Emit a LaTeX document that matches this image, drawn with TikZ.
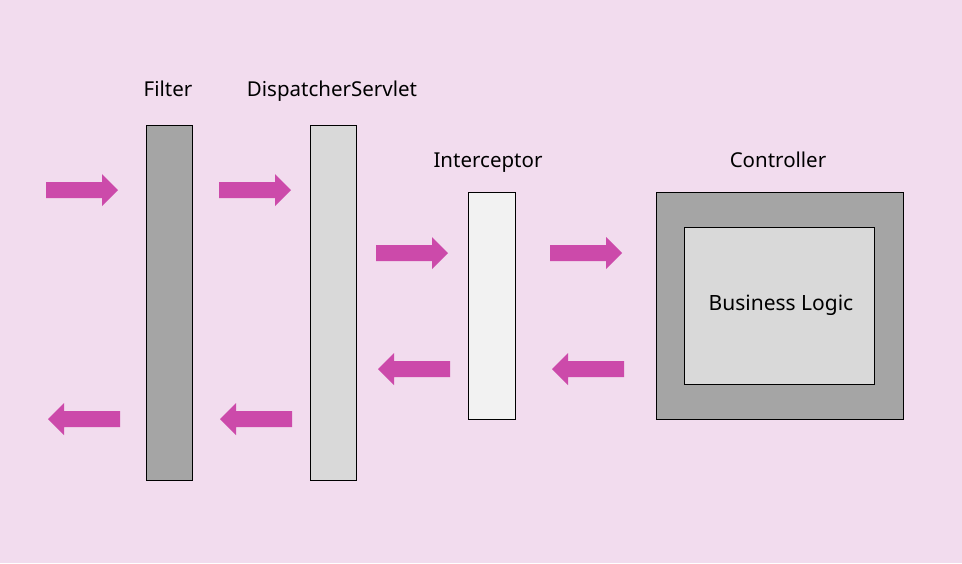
\documentclass[tikz,border=0pt]{standalone}
\usepackage{fontspec}
\setmainfont{Noto Sans}
\definecolor{bg}{HTML}{F2DCEE}
\definecolor{arr}{HTML}{CC4AAA}
\definecolor{dgray}{HTML}{A5A5A5}
\definecolor{mgray}{HTML}{D9D9D9}
\definecolor{lgray}{HTML}{F2F2F2}
\tikzset{
  box/.style={draw=black, line width=0.8pt, inner sep=0pt, outer sep=0pt},
  lbl/.style={font=\fontsize{20.5}{24}\selectfont, inner sep=0pt, anchor=base},
}
\newcommand{\rarr}[2]{\fill[arr] (#1,#2) ++(0,-8) -- ++(56,0) -- ++(0,-8) -- ++(16,16) -- ++(-16,16) -- ++(0,-8) -- ++(-56,0) -- cycle;}
\newcommand{\larr}[2]{\fill[arr] (#1,#2) -- ++(16,-16) -- ++(0,8) -- ++(56,0) -- ++(0,16) -- ++(-56,0) -- ++(0,8) -- cycle;}
\begin{document}
\begin{tikzpicture}[x=1pt,y=-1pt]
\fill[bg] (0,0) rectangle (962,563);
\useasboundingbox (0,0) rectangle (962,563);
% columns
\node[box, fill=dgray, minimum width=46pt, minimum height=355pt] (filter) at (169,302.5) {};
\node[box, fill=mgray, minimum width=46pt, minimum height=355pt] (ds) at (333,302.5) {};
\node[box, fill=lgray, minimum width=47pt, minimum height=227pt] (ic) at (491.5,305.5) {};
\node[box, fill=dgray, minimum width=247pt, minimum height=227pt] (ctrl) at (779.5,305.5) {};
\node[box, fill=mgray, minimum width=190pt, minimum height=157pt] (bl) at (779,305.5) {};
% labels
\node[lbl] (lfilter) at (168,96) {Filter};
\node[lbl] (lds) at (332,96) {DispatcherServlet};
\node[lbl] (lic) at (488,167) {Interceptor};
\node[lbl] (lctrl) at (778,167) {Controller};
\node[lbl, font=\fontsize{21}{24}\selectfont] (lbiz) at (781,310) {Business Logic};
% arrows
\rarr{46}{190}
\rarr{219}{190}
\rarr{376}{253}
\rarr{550}{253}
\larr{552}{369}
\larr{378}{369}
\larr{48}{419}
\larr{220}{419}
\end{tikzpicture}
\end{document}
